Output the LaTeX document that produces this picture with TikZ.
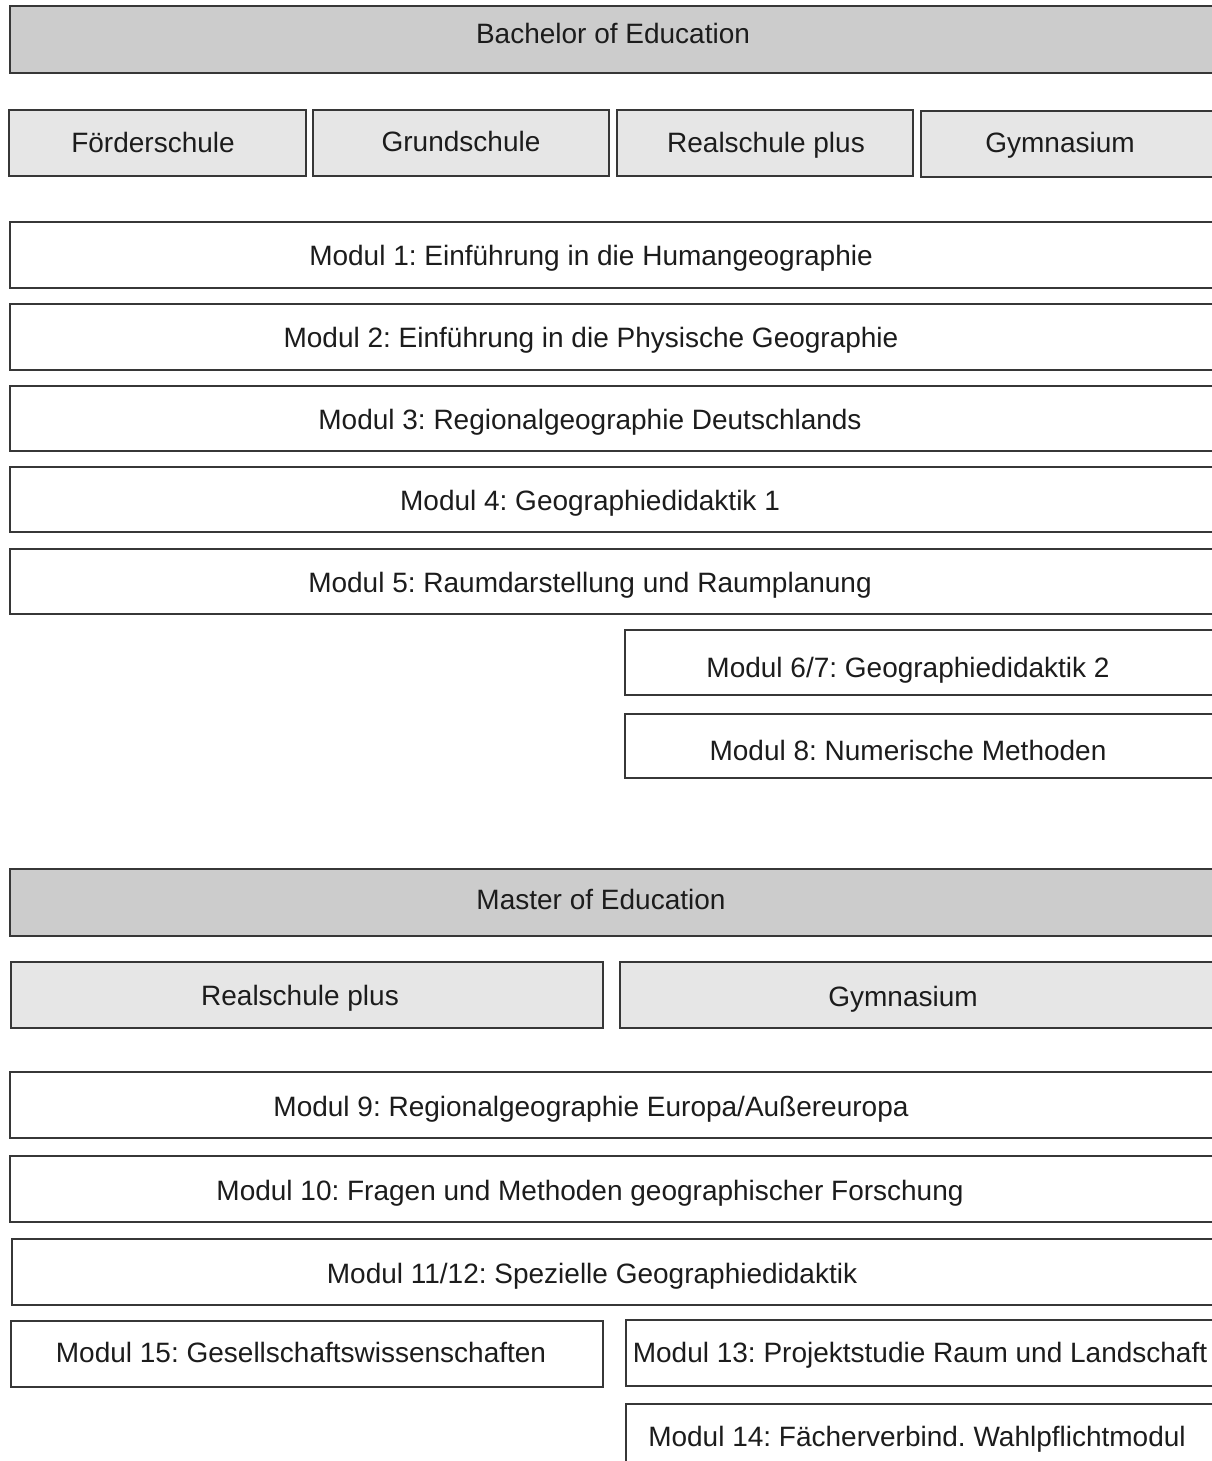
\documentclass[tikz,border=0pt]{standalone}
\usepackage{fontspec}
\setmainfont{Liberation Sans}
\usepackage{xcolor}
\usepackage{tikz}
\usetikzlibrary{positioning}
\frenchspacing

\definecolor{headgrey}{RGB}{204,204,204}
\definecolor{schoolgrey}{RGB}{230,230,230}
\definecolor{boxline}{RGB}{55,55,55}
\definecolor{textcol}{RGB}{28,28,28}

\tikzset{
  box/.style={rectangle, draw=boxline, line width=2.4pt, anchor=north west, inner sep=0pt},
  headbox/.style={box, fill=headgrey},
  schoolbox/.style={box, fill=schoolgrey},
  modbox/.style={box, fill=white},
  lbl/.style={anchor=base, text=textcol, font=\fontsize{28}{32}\selectfont, inner sep=0pt}
}

\begin{document}
\begin{tikzpicture}[x=1pt, y=-1pt]
\useasboundingbox (0,0) rectangle (1212,1461);
\clip (0,0) rectangle (1212,1461);

\node [headbox, minimum width=1240pt, minimum height=67pt] (bach) at (9,5) {};
\node [lbl] (bachT) at (613,44) {Bachelor of Education};

\node [schoolbox, minimum width=297pt, minimum height=66pt] (foerd) at (8,109) {};
\node [schoolbox, minimum width=296pt, minimum height=66pt] (grund) at (312,109) {};
\node [schoolbox, minimum width=296pt, minimum height=66pt] (realB) at (616,109) {};
\node [schoolbox, minimum width=320pt, minimum height=66pt] (gymB) at (920,110) {};
\node [lbl] (foerdT) at (153,152) {Förderschule};
\node [lbl] (grundT) at (461,151) {Grundschule};
\node [lbl] (realBT) at (766,153) {Realschule plus};
\node [lbl] (gymBT) at (1060,152) {Gymnasium};

\node [modbox, minimum width=1240pt, minimum height=66pt] (m1) at (9,221) {};
\node [modbox, minimum width=1240pt, minimum height=66pt] (m2) at (9,303) {};
\node [modbox, minimum width=1240pt, minimum height=65pt] (m3) at (9,385) {};
\node [modbox, minimum width=1240pt, minimum height=65pt] (m4) at (9,466) {};
\node [modbox, minimum width=1240pt, minimum height=65pt] (m5) at (9,548) {};
\node [modbox, minimum width=620pt, minimum height=65pt] (m67) at (624,629) {};
\node [modbox, minimum width=620pt, minimum height=64pt] (m8) at (624,713) {};
\node [lbl] (m1T) at (591,265) {Modul 1: Einführung in die Humangeographie};
\node [lbl] (m2T) at (591,347) {Modul 2: Einführung in die Physische Geographie};
\node [lbl] (m3T) at (590,429) {Modul 3: Regionalgeographie Deutschlands};
\node [lbl] (m4T) at (590,510) {Modul 4: Geographiedidaktik 1};
\node [lbl] (m5T) at (590,592) {Modul 5: Raumdarstellung und Raumplanung};
\node [lbl] (m67T) at (908,677) {Modul 6/7: Geographiedidaktik 2};
\node [lbl] (m8T) at (908,760) {Modul 8: Numerische Methoden};

\node [headbox, minimum width=1240pt, minimum height=67pt] (mast) at (9,868) {};
\node [lbl] (mastT) at (601,909) {Master of Education};

\node [schoolbox, minimum width=592pt, minimum height=66pt] (realM) at (10,961) {};
\node [schoolbox, minimum width=620pt, minimum height=66pt] (gymM) at (619,961) {};
\node [lbl] (realMT) at (300,1005) {Realschule plus};
\node [lbl] (gymMT) at (903,1006) {Gymnasium};

\node [modbox, minimum width=1240pt, minimum height=66pt] (m9) at (9,1071) {};
\node [modbox, minimum width=1240pt, minimum height=66pt] (m10) at (9,1155) {};
\node [modbox, minimum width=1240pt, minimum height=66pt] (m1112) at (11,1238) {};
\node [modbox, minimum width=592pt, minimum height=66pt] (m15) at (10,1320) {};
\node [modbox, minimum width=620pt, minimum height=66pt] (m13) at (625,1319) {};
\node [modbox, minimum width=620pt, minimum height=80pt] (m14) at (625,1403) {};
\node [lbl] (m9T) at (591,1116) {Modul 9: Regionalgeographie Europa/Außereuropa};
\node [lbl] (m10T) at (590,1200) {Modul 10: Fragen und Methoden geographischer Forschung};
\node [lbl] (m1112T) at (592,1283) {Modul 11/12: Spezielle Geographiedidaktik};
\node [lbl] (m15T) at (301,1362) {Modul 15: Gesellschaftswissenschaften};
\node [lbl] (m13T) at (920,1362) {Modul 13: Projektstudie Raum und Landschaft};
\node [lbl] (m14T) at (917,1446) {Modul 14: Fächerverbind. Wahlpflichtmodul};
\end{tikzpicture}
\end{document}
